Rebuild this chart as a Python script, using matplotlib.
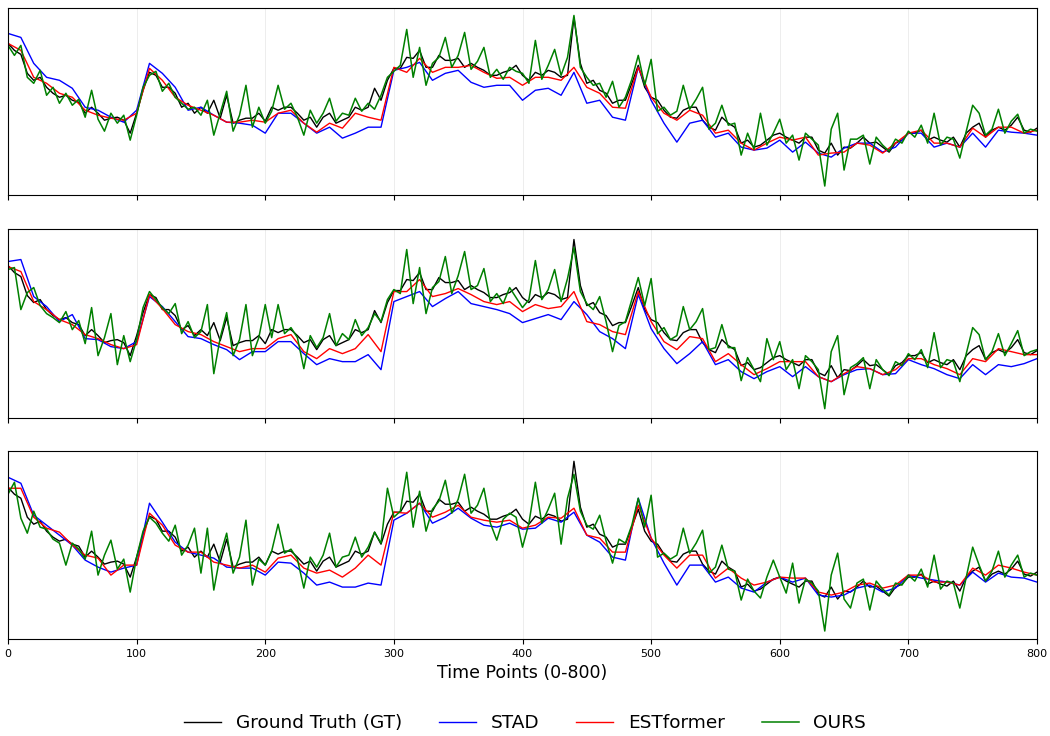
import numpy as np
import matplotlib.pyplot as plt

# time axis (values read every 5 / every 10 time points)
t5 = np.arange(0, 801, 5)
t10 = np.arange(0, 801, 10)

# ground truth, same in every panel
gt = [152, 145, 141, 122, 115, 118, 108, 102, 98, 100, 95, 93, 82, 88, 82, 75, 77, 78, 75, 62,
      82, 105, 123, 120, 108, 108, 102, 88, 92, 82, 88, 82, 95, 77, 100, 72, 75, 77, 77, 82,
      74, 88, 85, 88, 88, 82, 75, 78, 68, 78, 82, 72, 75, 78, 88, 85, 88, 107, 95, 115,
      127, 127, 138, 137, 145, 128, 128, 140, 135, 135, 137, 128, 132, 128, 125, 120, 120, 123, 125, 130,
      120, 115, 123, 120, 125, 123, 118, 120, 178, 132, 112, 115, 105, 102, 92, 95, 95, 112, 130, 108,
      98, 95, 85, 78, 77, 85, 88, 88, 75, 68, 65, 78, 72, 68, 52, 55, 48, 50, 55, 60,
      62, 58, 55, 52, 58, 58, 45, 42, 52, 40, 48, 47, 52, 58, 52, 53, 48, 43, 52, 55,
      62, 62, 65, 55, 58, 55, 53, 58, 48, 62, 68, 72, 58, 65, 68, 65, 70, 78, 65, 63, 67]

# panel 1
stad_1 = [162, 158, 132, 118, 115, 107, 88, 85, 78, 73, 85, 132, 122, 108, 85, 88, 80, 73, 72, 70,
          62, 82, 82, 72, 62, 68, 57, 62, 68, 68, 125, 128, 133, 115, 122, 125, 113, 108, 110, 110,
          95, 105, 107, 100, 123, 92, 95, 78, 75, 128, 95, 72, 53, 72, 75, 58, 62, 48, 45, 47,
          55, 43, 53, 42, 38, 47, 52, 52, 43, 48, 62, 62, 48, 52, 48, 62, 48, 65, 63, 62, 60]
est_1 = [152, 145, 118, 112, 102, 98, 85, 80, 77, 75, 82, 127, 115, 98, 90, 85, 80, 73, 73, 75,
         73, 82, 85, 72, 63, 72, 67, 82, 78, 75, 128, 123, 137, 123, 128, 128, 130, 123, 117, 118,
         110, 118, 118, 115, 128, 108, 102, 88, 87, 128, 98, 82, 75, 85, 80, 62, 65, 52, 45, 52,
         58, 55, 58, 40, 42, 43, 52, 50, 42, 52, 62, 65, 52, 52, 48, 67, 58, 68, 68, 62, 65]
ours_1 = [150, 140, 150, 118, 112, 125, 100, 108, 92, 102, 90, 96, 78, 105, 76, 64, 82, 72, 80, 55,
          80, 108, 120, 124, 104, 112, 98, 92, 86, 88, 80, 95, 60, 82, 104, 64, 80, 110, 68, 88,
          72, 84, 110, 86, 92, 78, 60, 85, 72, 82, 97, 74, 82, 80, 97, 84, 92, 86, 100, 118,
          124, 130, 166, 118, 148, 110, 132, 138, 158, 128, 140, 163, 126, 134, 148, 118, 126, 116, 128, 124,
          122, 112, 155, 116, 130, 146, 120, 138, 180, 128, 118, 110, 112, 98, 114, 88, 98, 116, 140, 110,
          136, 84, 88, 80, 84, 110, 86, 96, 108, 66, 72, 90, 70, 72, 40, 62, 46, 82, 50, 62,
          76, 52, 60, 35, 62, 56, 50, 9, 66, 82, 25, 56, 56, 60, 31, 58, 50, 44, 56, 52,
          64, 58, 70, 52, 82, 50, 58, 56, 37, 64, 90, 82, 60, 66, 86, 62, 74, 81, 62, 66, 64]

# panel 2
stad_2 = [156, 158, 121, 111, 96, 103, 79, 78, 71, 69, 76, 121, 111, 96, 81, 79, 73, 68, 58, 66,
          66, 76, 76, 64, 53, 59, 56, 56, 63, 48, 116, 121, 126, 111, 119, 126, 114, 111, 108, 104,
          95, 99, 103, 98, 116, 103, 86, 79, 69, 123, 89, 69, 54, 64, 76, 53, 58, 46, 39, 46,
          51, 41, 51, 41, 36, 43, 48, 49, 43, 44, 58, 53, 49, 43, 39, 53, 43, 53, 51, 54, 59]
est_2 = [151, 146, 116, 108, 98, 93, 83, 79, 73, 69, 73, 123, 109, 93, 86, 83, 76, 71, 66, 69,
         69, 79, 83, 66, 59, 69, 64, 69, 83, 66, 126, 126, 138, 121, 124, 129, 123, 116, 113, 116,
         106, 113, 109, 111, 126, 96, 93, 86, 83, 126, 96, 76, 68, 81, 79, 56, 64, 53, 43, 49,
         56, 56, 56, 41, 36, 44, 51, 49, 43, 48, 59, 59, 53, 49, 43, 59, 56, 69, 66, 63, 63]
ours_2 = [148, 150, 108, 125, 130, 112, 104, 100, 95, 106, 88, 97, 74, 110, 62, 80, 104, 53, 82, 56,
          78, 110, 126, 118, 110, 104, 114, 84, 96, 80, 86, 113, 44, 80, 105, 62, 78, 113, 62, 80,
          113, 80, 113, 84, 90, 80, 49, 82, 70, 80, 104, 72, 84, 78, 98, 82, 90, 104, 96, 118,
          128, 124, 168, 114, 150, 104, 130, 136, 161, 124, 142, 166, 128, 132, 149, 116, 124, 114, 130, 120,
          110, 118, 157, 118, 128, 148, 116, 139, 170, 126, 114, 108, 121, 96, 66, 92, 96, 118, 140, 112,
          139, 84, 90, 78, 82, 111, 88, 96, 109, 68, 70, 93, 70, 70, 37, 60, 48, 36, 79, 58,
          76, 48, 58, 29, 62, 56, 48, 9, 66, 82, 23, 50, 54, 60, 29, 58, 48, 42, 56, 52,
          64, 58, 68, 50, 85, 50, 58, 56, 36, 64, 90, 83, 58, 66, 84, 62, 74, 87, 62, 66, 68]

# panel 3
stad_3 = [162, 156, 124, 114, 104, 94, 79, 72, 67, 71, 74, 136, 117, 97, 87, 84, 81, 72, 71, 71,
          64, 77, 76, 66, 54, 57, 52, 52, 56, 54, 119, 126, 136, 116, 122, 131, 121, 114, 112, 116,
          110, 111, 121, 117, 127, 104, 97, 82, 79, 141, 101, 76, 54, 74, 74, 57, 62, 51, 47, 57,
          62, 57, 61, 44, 42, 44, 51, 54, 47, 51, 64, 61, 59, 57, 54, 67, 57, 66, 62, 61, 57]
est_3 = [151, 151, 122, 111, 107, 94, 84, 81, 64, 74, 74, 126, 114, 94, 87, 87, 77, 74, 71, 74,
         67, 81, 84, 71, 66, 69, 62, 71, 84, 74, 127, 126, 136, 122, 127, 134, 122, 119, 117, 119,
         111, 114, 122, 121, 131, 104, 101, 87, 87, 134, 101, 84, 71, 84, 84, 61, 71, 61, 54, 57,
         62, 61, 61, 47, 44, 47, 54, 56, 51, 54, 64, 64, 57, 57, 54, 71, 64, 74, 71, 67, 64]
ours_3 = [145, 157, 121, 106, 128, 112, 110, 100, 96, 74, 96, 90, 80, 108, 64, 84, 99, 70, 80, 47,
          82, 108, 122, 116, 106, 98, 114, 84, 94, 111, 66, 111, 49, 84, 106, 66, 82, 119, 54, 80,
          74, 88, 115, 86, 90, 80, 51, 82, 72, 84, 106, 72, 82, 84, 102, 82, 92, 107, 96, 151,
          122, 128, 167, 112, 148, 108, 130, 138, 159, 126, 140, 165, 126, 134, 151, 116, 99, 120, 126, 122,
          92, 116, 157, 116, 130, 146, 95, 141, 165, 128, 114, 110, 124, 98, 76, 100, 96, 114, 141, 112,
          144, 82, 86, 80, 84, 111, 86, 96, 109, 66, 72, 94, 70, 68, 39, 60, 48, 41, 62, 79,
          62, 46, 76, 36, 60, 56, 48, 8, 64, 86, 40, 31, 56, 60, 29, 58, 50, 44, 56, 54,
          64, 58, 70, 52, 84, 50, 58, 56, 31, 62, 92, 74, 58, 68, 88, 62, 74, 84, 62, 66, 64]

panels = [(stad_1, est_1, ours_1), (stad_2, est_2, ours_2), (stad_3, est_3, ours_3)]

fig = plt.figure(figsize=(10.5, 7.36), dpi=100)
W, H = 1050, 736
boxes = [(7.5, 195), (229.5, 417.7), (451.3, 639)]  # pixel top/bottom of each panel

axes = []
for i, (top, bot) in enumerate(boxes):
    ax = fig.add_axes([8 / W, 1 - bot / H, (1037 - 8) / W, (bot - top) / H])
    stad, est, ours = panels[i]
    ax.plot(t5, gt, color='black', lw=1.0, label='Ground Truth (GT)')
    ax.plot(t10, stad, color='blue', lw=1.0, label='STAD')
    ax.plot(t10, est, color='red', lw=1.0, label='ESTformer')
    ax.plot(t5, ours, color='green', lw=1.1, label='OURS')
    ax.set_xlim(0, 800)
    ax.set_ylim(0, 188)
    ax.set_yticks([])
    ax.set_xticks(np.arange(0, 801, 100))
    ax.grid(axis='x', color='#dddddd', lw=0.6, alpha=0.6)
    ax.tick_params(axis='x', labelsize=8)
    if i < 2:
        ax.tick_params(axis='x', labelbottom=False)
    axes.append(ax)

axes[2].set_xlabel('Time Points (0-800)', fontsize=12.5)

handles, labels = axes[0].get_legend_handles_labels()
fig.legend(handles, labels, loc='center', bbox_to_anchor=(0.5, 1 - 723 / H), ncol=4,
           frameon=False, fontsize=13.3, handlelength=2.0, columnspacing=2.0)

plt.savefig('out.png', dpi=100)
